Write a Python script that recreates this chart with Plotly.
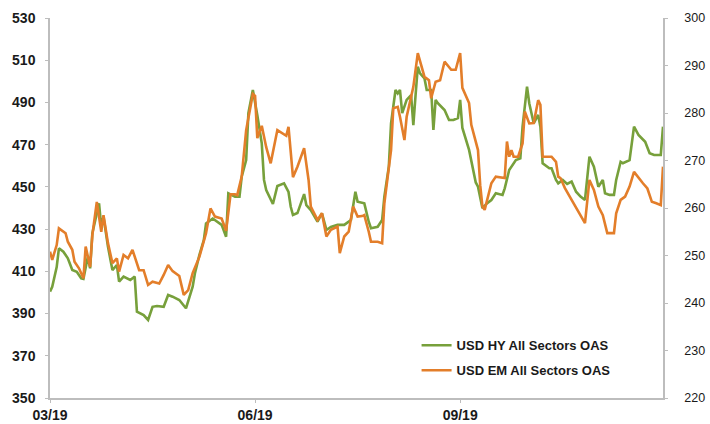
import plotly.graph_objects as go

# USD HY All Sectors OAS (left axis)
hy_dates = ["2019-03-01","2019-03-02","2019-03-04","2019-03-05","2019-03-07","2019-03-09","2019-03-11","2019-03-13",
    "2019-03-15","2019-03-16","2019-03-18","2019-03-19","2019-03-20","2019-03-23","2019-03-24","2019-03-25",
    "2019-03-27","2019-03-29","2019-03-31","2019-04-01","2019-04-03","2019-04-06","2019-04-08","2019-04-09",
    "2019-04-12","2019-04-14","2019-04-16","2019-04-18","2019-04-21","2019-04-23","2019-04-25","2019-04-28",
    "2019-05-01","2019-05-04","2019-05-05","2019-05-07","2019-05-09","2019-05-10","2019-05-13","2019-05-15",
    "2019-05-17","2019-05-19","2019-05-20","2019-05-23","2019-05-25","2019-05-26","2019-05-28","2019-05-29",
    "2019-05-31","2019-06-02","2019-06-04","2019-06-05","2019-06-06","2019-06-09","2019-06-11","2019-06-14",
    "2019-06-16","2019-06-17","2019-06-18","2019-06-20","2019-06-23","2019-06-24","2019-06-26","2019-06-29",
    "2019-07-01","2019-07-03","2019-07-05","2019-07-08","2019-07-11","2019-07-14","2019-07-16","2019-07-17",
    "2019-07-20","2019-07-22","2019-07-23","2019-07-26","2019-07-28","2019-07-29","2019-07-31","2019-08-01",
    "2019-08-03","2019-08-04","2019-08-05","2019-08-06","2019-08-08","2019-08-10","2019-08-11","2019-08-12",
    "2019-08-13","2019-08-14","2019-08-16","2019-08-17","2019-08-19","2019-08-20","2019-08-21","2019-08-22",
    "2019-08-25","2019-08-27","2019-08-29","2019-08-31","2019-09-01","2019-09-02","2019-09-04","2019-09-05",
    "2019-09-08","2019-09-09","2019-09-11","2019-09-13","2019-09-15","2019-09-17","2019-09-20","2019-09-21",
    "2019-09-23","2019-09-26","2019-09-28","2019-09-29","2019-10-01","2019-10-02","2019-10-04","2019-10-06",
    "2019-10-07","2019-10-08","2019-10-11","2019-10-12","2019-10-14","2019-10-15","2019-10-17","2019-10-19",
    "2019-10-21","2019-10-23","2019-10-25","2019-10-27","2019-10-29","2019-10-31","2019-11-02","2019-11-04",
    "2019-11-05","2019-11-07","2019-11-09","2019-11-10","2019-11-12","2019-11-13","2019-11-16","2019-11-18",
    "2019-11-20","2019-11-23","2019-11-25","2019-11-27","2019-11-30","2019-12-01"]
hy_values = [400.4,402.7,412.0,420.9,419.3,416.2,410.6,409.8,
    406.7,406.4,417.0,411.4,428.0,442.2,431.1,435.9,
    421.7,410.6,413.0,405.1,407.5,405.9,407.5,390.9,
    389.3,387.0,393.2,393.6,393.2,398.8,398.0,396.4,
    392.5,402.7,409.0,417.7,424.8,432.7,435.0,433.5,
    432.0,426.4,447.0,445.4,445.4,454.8,462.7,484.9,
    495.9,484.0,470.6,453.3,448.5,441.9,450.4,451.7,
    447.6,440.6,436.7,437.6,446.6,441.4,439.0,433.5,
    437.5,429.6,431.0,432.0,432.0,434.3,447.7,443.0,
    442.2,433.5,430.4,431.1,434.3,445.4,459.6,480.1,
    495.9,494.3,495.9,484.9,491.2,493.5,479.3,493.5,
    506.9,503.8,501.4,495.9,495.9,477.0,491.2,489.6,
    486.4,481.7,481.7,482.6,491.2,477.9,470.6,467.5,
    452.1,450.1,439.9,442.2,443.8,447.0,446.2,449.3,
    458.0,462.7,463.5,478.5,497.5,489.6,480.1,484.1,
    478.5,461.2,458.8,458.8,453.3,451.7,453.3,451.4,
    452.5,447.7,445.4,443.8,464.3,459.6,450.1,453.3,
    447.0,446.2,446.2,453.3,461.9,461.2,462.7,478.5,
    474.6,471.4,465.9,465.1,465.1,478.5]

# USD EM All Sectors OAS (right axis)
em_dates = ["2019-03-01","2019-03-02","2019-03-04","2019-03-05","2019-03-08","2019-03-09","2019-03-11","2019-03-12",
    "2019-03-14","2019-03-16","2019-03-17","2019-03-19","2019-03-20","2019-03-22","2019-03-24","2019-03-25",
    "2019-03-27","2019-03-29","2019-03-31","2019-04-01","2019-04-03","2019-04-05","2019-04-07","2019-04-10",
    "2019-04-12","2019-04-14","2019-04-16","2019-04-19","2019-04-21","2019-04-23","2019-04-25","2019-04-28",
    "2019-04-30","2019-05-02","2019-05-04","2019-05-07","2019-05-10","2019-05-12","2019-05-14","2019-05-17",
    "2019-05-19","2019-05-21","2019-05-23","2019-05-24","2019-05-26","2019-05-28","2019-05-31","2019-06-01",
    "2019-06-02","2019-06-04","2019-06-06","2019-06-08","2019-06-11","2019-06-14","2019-06-15","2019-06-16",
    "2019-06-18","2019-06-20","2019-06-23","2019-06-25","2019-06-26","2019-06-29","2019-07-01","2019-07-03",
    "2019-07-05","2019-07-08","2019-07-09","2019-07-11","2019-07-13","2019-07-15","2019-07-17","2019-07-19",
    "2019-07-20","2019-07-22","2019-07-23","2019-07-26","2019-07-28","2019-07-29","2019-08-01","2019-08-02",
    "2019-08-04","2019-08-05","2019-08-07","2019-08-08","2019-08-10","2019-08-11","2019-08-13","2019-08-15",
    "2019-08-16","2019-08-18","2019-08-19","2019-08-21","2019-08-23","2019-08-25","2019-08-28","2019-08-30",
    "2019-09-01","2019-09-02","2019-09-05","2019-09-06","2019-09-08","2019-09-09","2019-09-10","2019-09-11",
    "2019-09-12","2019-09-14","2019-09-15","2019-09-17","2019-09-20","2019-09-21","2019-09-22","2019-09-23",
    "2019-09-24","2019-09-25","2019-09-27","2019-09-29","2019-09-30","2019-10-02","2019-10-04","2019-10-06",
    "2019-10-07","2019-10-08","2019-10-11","2019-10-12","2019-10-14","2019-10-15","2019-10-16","2019-10-18",
    "2019-10-21","2019-10-24","2019-10-27","2019-10-29","2019-10-31","2019-11-02","2019-11-04","2019-11-06",
    "2019-11-09","2019-11-10","2019-11-12","2019-11-14","2019-11-16","2019-11-18","2019-11-20","2019-11-22",
    "2019-11-24","2019-11-26","2019-11-28","2019-11-30","2019-12-01"]
em_values = [250.8,249.1,252.2,255.7,254.7,252.9,251.2,248.7,
    247.3,245.2,251.9,247.6,254.3,261.3,255.0,258.5,
    252.6,248.4,249.4,246.6,250.1,249.4,251.2,246.9,
    246.9,243.8,244.5,244.1,245.9,248.0,246.7,245.7,
    241.7,242.7,246.3,249.7,254.7,259.9,258.2,257.8,
    255.2,262.9,262.9,262.7,266.6,276.4,284.0,283.6,
    274.7,277.3,272.8,269.4,276.4,275.4,275.2,277.1,
    266.5,268.7,272.6,265.9,260.3,257.5,258.9,254.0,
    255.4,256.1,250.5,254.0,255.0,260.3,258.2,258.3,
    258.5,255.0,252.9,252.9,252.6,261.0,272.2,281.0,
    281.3,279.2,274.3,279.2,283.4,285.5,292.6,289.1,
    287.6,286.9,283.1,286.6,286.9,290.8,289.1,289.1,
    292.6,285.3,282.1,277.5,273.6,272.2,264.8,260.3,
    259.6,263.1,265.2,266.6,266.3,266.3,274.0,270.8,
    272.2,270.8,270.8,273.6,280.3,277.8,277.9,282.7,
    281.7,270.8,270.8,270.8,269.7,266.6,266.3,264.2,
    261.7,259.2,256.8,265.9,263.8,260.3,258.5,254.7,
    254.7,258.9,261.7,262.4,264.5,267.6,266.3,265.2,
    264.1,261.3,261.0,260.6,268.7]

tick_vals = ["2019-03-01", "2019-06-01", "2019-09-01"]
tick_text = ["03/19", "06/19", "09/19"]

FONT = "Arial, Liberation Sans, sans-serif"
GREEN = "#77A03B"
ORANGE = "#E37E2A"
AXIS = "#BDBDBD"
TXT = "#1a1a1a"

fig = go.Figure()
fig.add_trace(go.Scatter(x=hy_dates, y=hy_values, mode="lines", name="USD HY All Sectors OAS",
                         line=dict(color=GREEN, width=2.6), legendgroup="hy", yaxis="y"))
fig.add_trace(go.Scatter(x=em_dates, y=em_values, mode="lines", name="USD EM All Sectors OAS",
                         line=dict(color=ORANGE, width=2.6), legendgroup="em", yaxis="y2"))

fig.update_layout(
    width=710, height=424,
    margin=dict(l=50, r=47, t=18, b=26, autoexpand=False),
    paper_bgcolor="white", plot_bgcolor="white",
    font=dict(family=FONT, size=12, color=TXT),
    showlegend=True,
    legend=dict(x=0.598, y=0.178, xanchor="left", yanchor="top",
                traceorder="grouped", tracegroupgap=5,
                bgcolor="rgba(0,0,0,0)",
                font=dict(family=FONT, size=13, color=TXT, weight="bold")),
    xaxis=dict(type="date", range=["2019-03-01", "2019-12-01"],
               tickvals=tick_vals, ticktext=tick_text,
               showgrid=False, zeroline=False, automargin=False,
               showline=True, linecolor=AXIS, linewidth=1.5,
               ticks="outside", ticklen=3, tickcolor=AXIS,
               tickfont=dict(family=FONT, size=14, color=TXT, weight="bold")),
    yaxis=dict(range=[350, 530], dtick=20, tick0=350,
               showgrid=False, zeroline=False, automargin=False,
               showline=True, linecolor=AXIS, linewidth=1.5,
               ticks="outside", ticklen=3, tickcolor=AXIS,
               ticklabelstandoff=7,
               tickfont=dict(family=FONT, size=14, color=TXT, weight="bold")),
    yaxis2=dict(range=[220, 300], dtick=10, tick0=220,
                overlaying="y", side="right", automargin=False,
                showgrid=False, zeroline=False,
                showline=True, linecolor=AXIS, linewidth=1.5,
                ticks="outside", ticklen=3, tickcolor=AXIS,
                ticklabelstandoff=14,
                tickfont=dict(family=FONT, size=12.5, color=TXT)),
)

fig.write_html(
    "out.html",
    config={"displayModeBar": False},
    post_script=("document.body.style.margin='0';"
                 "document.body.style.overflow='hidden';"
                 "document.documentElement.style.overflow='hidden';"),
)
